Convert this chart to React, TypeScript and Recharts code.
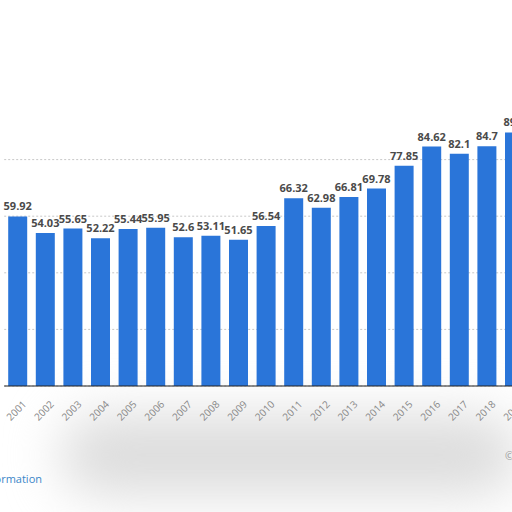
import React from "react";
import { BarChart, Bar, XAxis, YAxis, CartesianGrid, LabelList } from "recharts";

const years = ["2001","2002","2003","2004","2005","2006","2007","2008","2009","2010","2011","2012","2013","2014","2015","2016","2017","2018","2019"];
const values = [59.92,54.03,55.65,52.22,55.44,55.95,52.6,53.11,51.65,56.54,66.32,62.98,66.81,69.78,77.85,84.62,82.1,84.7,89.6];
const yTicks = [0,20,40,60,80];

const data = years.map((y, i) => ({ year: y, value: values[i] }));

const FONT = "'Open Sans', 'DejaVu Sans', sans-serif";

export default function App() {
  return (
    <div style={{ position: "fixed", left: 0, top: 0, width: 512, height: 512, overflow: "hidden", background: "#fff" }}>
      <div style={{ position: "absolute", left: 60, top: 415, width: 460, height: 80, background: "#dcdcdc", filter: "blur(26px)", borderRadius: 40 }} />
      <div style={{ position: "absolute", left: 0, top: 0 }}>
        <BarChart width={540} height={426} data={data} margin={{ top: 103, right: 11.4, left: 4.2, bottom: 0 }}>
          <CartesianGrid vertical={false} stroke="#c8c8c8" strokeDasharray="2 2" horizontalValues={yTicks} />
          <YAxis hide domain={[0, 100]} ticks={yTicks} />
          <XAxis
            dataKey="year"
            interval={0}
            height={40}
            tickLine={false}
            tickMargin={8}
            axisLine={{ stroke: "#222" }}
            angle={-45}
            textAnchor="end"
            tick={{ fill: "#888", fontSize: 10, fontFamily: FONT, dx: 4 }}
          />
          <Bar dataKey="value" fill="#2a75d9" barSize={19} isAnimationActive={false}>
            <LabelList dataKey="value" position="top" offset={6} fill="#4a4a4a" fontSize={11} fontWeight="bold" fontFamily={FONT} />
          </Bar>
        </BarChart>
      </div>
      <div style={{ position: "absolute", right: 470, top: 471, whiteSpace: "nowrap", color: "#3a86c8", fontSize: 11, fontFamily: FONT }}>
        Additional Information
      </div>
      <div style={{ position: "absolute", left: 505, top: 448, color: "#999", fontSize: 11, fontFamily: FONT }}>©</div>
    </div>
  );
}
